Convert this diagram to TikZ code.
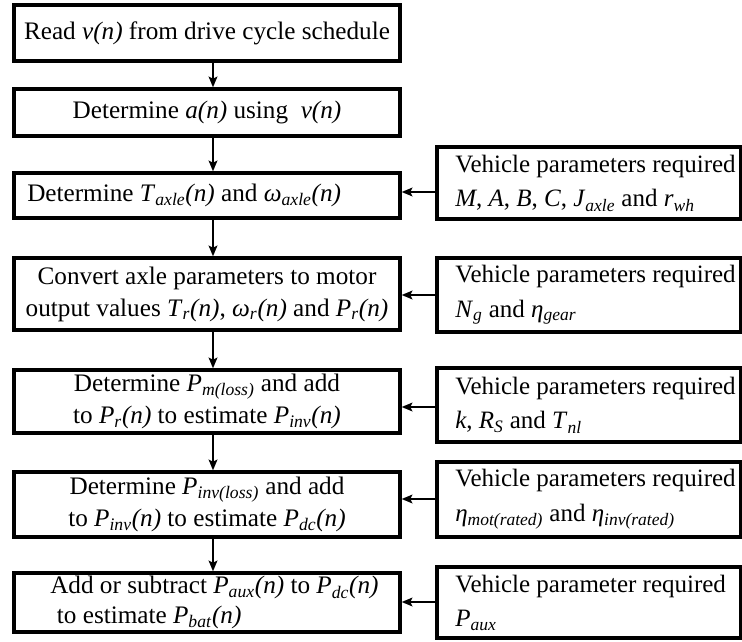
\documentclass[tikz,border=0pt]{standalone}
\usepackage{fontspec}
\setmainfont{Liberation Serif}
\usetikzlibrary{arrows.meta}
\newcommand\myit[1]{\textit{#1}}
\newcommand\mysub[1]{\textsubscript{\textit{#1}}}
\begin{document}
\begin{tikzpicture}[x=0.75pt,y=-0.75pt,
  box/.style={draw,line width=2.5pt,rectangle,inner sep=0pt,align=center,
    font=\fontsize{18.9}{24}\selectfont},
  lbox/.style={box,minimum width=289.5pt},
  rbox/.style={box,minimum width=228pt},
  txt/.style={inner sep=0pt,anchor=west,align=left,font=\fontsize{18.9}{22}\selectfont},
  rtxt/.style={txt,font=\fontsize{18.75}{26}\selectfont},
  arr/.style={line width=1.5pt,-{Stealth[length=8pt,width=6.5pt,inset=1.5pt]}}]
\useasboundingbox (0,0) rectangle (742,642);
% left column
\node[lbox,minimum height=42pt] (b1) at (207,33) {Read \myit{v(n)} from drive cycle schedule};
\node[lbox,minimum height=35.25pt] (b2) at (207,112.5) {Determine \myit{a(n)} using\ \ \myit{v(n)}};
\node[lbox,minimum height=33.75pt] (b3) at (207,195.5) {};
\node[txt] (t3) at (27,195.5) {Determine \myit{T}\mysub{axle}\myit{(n)} and \myit{ω}\mysub{axle}\myit{(n)}};
\node[lbox,minimum height=54pt] (b4) at (207,294) {Convert axle parameters to motor\\output values \myit{T}\mysub{r}\myit{(n)}, \myit{ω}\mysub{r}\myit{(n)} and \myit{P}\mysub{r}\myit{(n)}};
\node[lbox,minimum height=47.25pt] (b5) at (207,401.5) {Determine \myit{P}\mysub{m(loss)} and add\\to \myit{P}\mysub{r}\myit{(n)} to estimate \myit{P}\mysub{inv}\myit{(n)}};
\node[lbox,minimum height=48.75pt] (b6) at (207,504.5) {Determine \myit{P}\mysub{inv(loss)} and add\\to \myit{P}\mysub{inv}\myit{(n)} to estimate \myit{P}\mysub{dc}\myit{(n)}};
\node[lbox,minimum height=44.25pt] (b7) at (207,602.5) {};
\node[txt] (t7) at (50,602.5) {Add or subtract \myit{P}\mysub{aux}\myit{(n)} to \myit{P}\mysub{dc}\myit{(n)}\\\hspace{5pt}to estimate \myit{P}\mysub{bat}\myit{(n)}};
% right column
\node[rbox,minimum height=54pt] (r1) at (589,183) {};
\node[rtxt] (s1) at (455,183) {Vehicle parameters required\\\myit{M}, \myit{A}, \myit{B}, \myit{C}, \myit{J}\mysub{axle} and \myit{r}\mysub{wh}};
\node[rbox,minimum height=55.5pt] (r2) at (589,295) {};
\node[rtxt] (s2) at (455,295) {Vehicle parameters required\\\myit{N}\mysub{g} and \myit{η}\mysub{gear}};
\node[rbox,minimum height=55.5pt] (r3) at (589,405) {};
\node[rtxt] (s3) at (455,405) {Vehicle parameters required\\\myit{k}, \myit{R}\mysub{S} and \myit{T}\mysub{nl}};
\node[rbox,minimum height=56.25pt] (r4) at (589,499.5) {};
\node[rtxt] (s4) at (455,499.5) {Vehicle parameters required\\\myit{η}\mysub{mot(rated)} and \myit{η}\mysub{inv(rated)}};
\node[rbox,minimum height=53.25pt] (r5) at (589,602.5) {};
\node[rtxt] (s5) at (455,602.5) {Vehicle parameter required\\\myit{P}\mysub{aux}};
% vertical arrows
\foreach \a/\b in {b1/b2,b2/b3,b3/b4,b4/b5,b5/b6,b6/b7}
  \draw[arr] ([xshift=4.5pt]\a.south) -- ([xshift=4.5pt]\b.north);
% horizontal arrows
\coordinate (y1) at (0,192);
\coordinate (y2) at (0,295);
\coordinate (y3) at (0,407);
\coordinate (y4) at (0,499);
\coordinate (y5) at (0,602);
\draw[arr] (r1.west |- y1) -- (b3.east |- y1);
\draw[arr] (r2.west |- y2) -- (b4.east |- y2);
\draw[arr] (r3.west |- y3) -- (b5.east |- y3);
\draw[arr] (r4.west |- y4) -- (b6.east |- y4);
\draw[arr] (r5.west |- y5) -- (b7.east |- y5);
\end{tikzpicture}
\end{document}
